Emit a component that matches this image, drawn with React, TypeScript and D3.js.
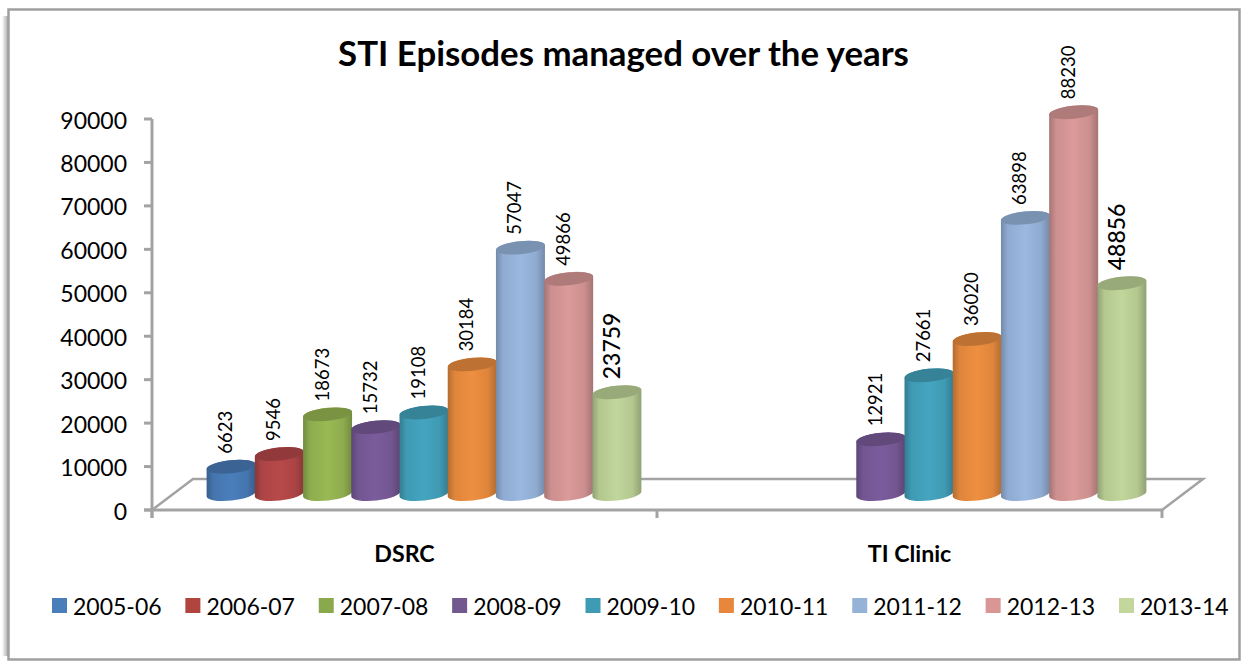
import React from "react";
import * as d3 from "d3";

const title = "STI Episodes managed over the years";
const categories = ["DSRC", "TI Clinic"];
const seriesNames = ["2005-06", "2006-07", "2007-08", "2008-09", "2009-10", "2010-11", "2011-12", "2012-13", "2013-14"];
const dsrcValues = [6623, 9546, 18673, 15732, 19108, 30184, 57047, 49866, 23759];
const tiValues = [null, null, null, 12921, 27661, 36020, 63898, 88230, 48856];
const yTicks = [0, 10000, 20000, 30000, 40000, 50000, 60000, 70000, 80000, 90000];
const sideLight = ["#4a7ebb", "#b8494a", "#98b954", "#7a5c9c", "#44a5c0", "#ee8f40", "#9ab8e0", "#dc9a9a", "#c0d69a"];
const legendSwatch = ["#4a7ebb", "#b0443f", "#8aa84c", "#71588f", "#3f9bb3", "#e8873c", "#95b3d7", "#d99694", "#c3d69b"];

const W = 1241, H = 662;
const x0 = 152, x1 = 1162, yBase = 510, yTop = 119;
const depthX = 41, depthY = 31, barLift = 14.5, bottomLift = 16;
const rx = 24.5, ry = 6.5, tilt = -6;
const font = "Lato, Carlito, sans-serif";
const axisColor = "#a3a3a3";

const yScale = d3.scaleLinear().domain([0, 90000]).range([yBase, yTop]);
const groupScale = d3.scaleBand<string>().domain(categories).range([x0, x1]);
const innerScale = d3.scaleBand<number>().domain(d3.range(seriesNames.length)).range([55, 489]);
const legendScale = d3.scalePoint<string>().domain(seriesNames).range([52, 1119]);

function Bar({ cat, i, value }: { cat: string; i: number; value: number }) {
  const cx = (groupScale(cat) as number) + (innerScale(i) as number) + innerScale.bandwidth() / 2;
  const top = yScale(value) - barLift;
  const bottom = yScale(0) - bottomLift;
  const dx = rx, dy = rx * Math.sin((-tilt * Math.PI) / 180);
  const body =
    `M${cx - dx},${top + dy} L${cx - dx},${bottom + dy} ` +
    `A${rx},${ry} ${tilt} 0 0 ${cx + dx},${bottom - dy} L${cx + dx},${top - dy} ` +
    `A${rx},${ry} ${tilt} 0 0 ${cx - dx},${top + dy} Z`;
  const topColor = d3.color(sideLight[i])!.darker(0.65).formatHex();
  const big = i === seriesNames.length - 1;
  return (
    <g>
      <path d={body} fill={`url(#bar${i})`} />
      <ellipse cx={cx} cy={top} rx={rx} ry={ry} fill={topColor} transform={`rotate(${tilt} ${cx} ${top})`} />
      <text
        transform={`translate(${cx - 6},${top - 13}) rotate(-90)`}
        fontFamily={font}
        fontSize={big ? 23 : 18.5}
        fontWeight={big ? 500 : 400}
        dominantBaseline="central"
        fill="#000"
      >
        {value}
      </text>
    </g>
  );
}

export default function App() {
  return (
    <svg width={W} height={H} viewBox={`0 0 ${W} ${H}`} style={{ position: "absolute", left: 0, top: 0, display: "block" }}>
      <defs>
        {sideLight.map((c, i) => {
          const base = d3.color(c)!;
          const dark = base.darker(0.8).formatHex();
          const mid = base.darker(0.2).formatHex();
          const light = base.formatHex();
          return (
            <linearGradient key={c} id={`bar${i}`} x1="0" x2="1" y1="0" y2="0">
              <stop offset="0" stopColor={dark} />
              <stop offset="0.14" stopColor={mid} />
              <stop offset="0.5" stopColor={light} />
              <stop offset="0.82" stopColor={mid} />
              <stop offset="1" stopColor={dark} />
            </linearGradient>
          );
        })}
        <linearGradient id="shadow" x1="0" x2="1" y1="0" y2="0">
          <stop offset="0" stopColor="#fff" />
          <stop offset="1" stopColor="#a8a8a8" />
        </linearGradient>
      </defs>
      <rect width={W} height={H} fill="#fff" />
      <rect x={2} y={16} width={6} height={640} fill="url(#shadow)" />
      <rect x={8.5} y={9.5} width={1231} height={650} fill="#fff" stroke="#a0a0a0" strokeWidth={2.5} />

      <text x={623.5} y={66} textAnchor="middle" fontFamily={font} fontSize={34.8} fontWeight={700} fill="#000">
        {title}
      </text>

      <g fill="none" stroke={axisColor} strokeWidth={3}>
        <path d={`M${x0},${yBase} L${x0 + depthX},${yBase - depthY} L${x1 + depthX},${yBase - depthY} L${x1},${yBase}`} strokeWidth={2.5} />
        <line x1={x0} x2={x0} y1={yTop} y2={yBase + 8} />
        <line x1={x0 - 8} x2={x1} y1={yBase} y2={yBase} />
        {yTicks.map((t) => (
          <line key={t} x1={x0 - 8} x2={x0} y1={yScale(t)} y2={yScale(t)} />
        ))}
        {[...categories.map((c) => groupScale(c) as number), x1].map((x) => (
          <line key={x} x1={x} x2={x} y1={yBase} y2={yBase + 8} />
        ))}
      </g>

      {yTicks.map((t) => (
        <text key={t} x={127} y={yScale(t) + 0.5} textAnchor="end" dominantBaseline="central" fontFamily={font} fontSize={23} fill="#000">
          {t}
        </text>
      ))}

      {dsrcValues.map((v, i) => (v == null ? null : <Bar key={i} cat={categories[0]} i={i} value={v} />))}
      {tiValues.map((v, i) => (v == null ? null : <Bar key={i} cat={categories[1]} i={i} value={v} />))}

      {categories.map((c) => (
        <text
          key={c}
          x={(groupScale(c) as number) + groupScale.bandwidth() / 2}
          y={553}
          textAnchor="middle"
          dominantBaseline="central"
          fontFamily={font}
          fontSize={23.2}
          fontWeight={700}
          fill="#000"
        >
          {c}
        </text>
      ))}

      {seriesNames.map((s, i) => (
        <g key={s} transform={`translate(${legendScale(s)},598)`}>
          <rect width={15} height={15} fill={legendSwatch[i]} />
          <text x={21} y={7.5} dominantBaseline="central" fontFamily={font} fontSize={23} fill="#000">
            {s}
          </text>
        </g>
      ))}
    </svg>
  );
}
